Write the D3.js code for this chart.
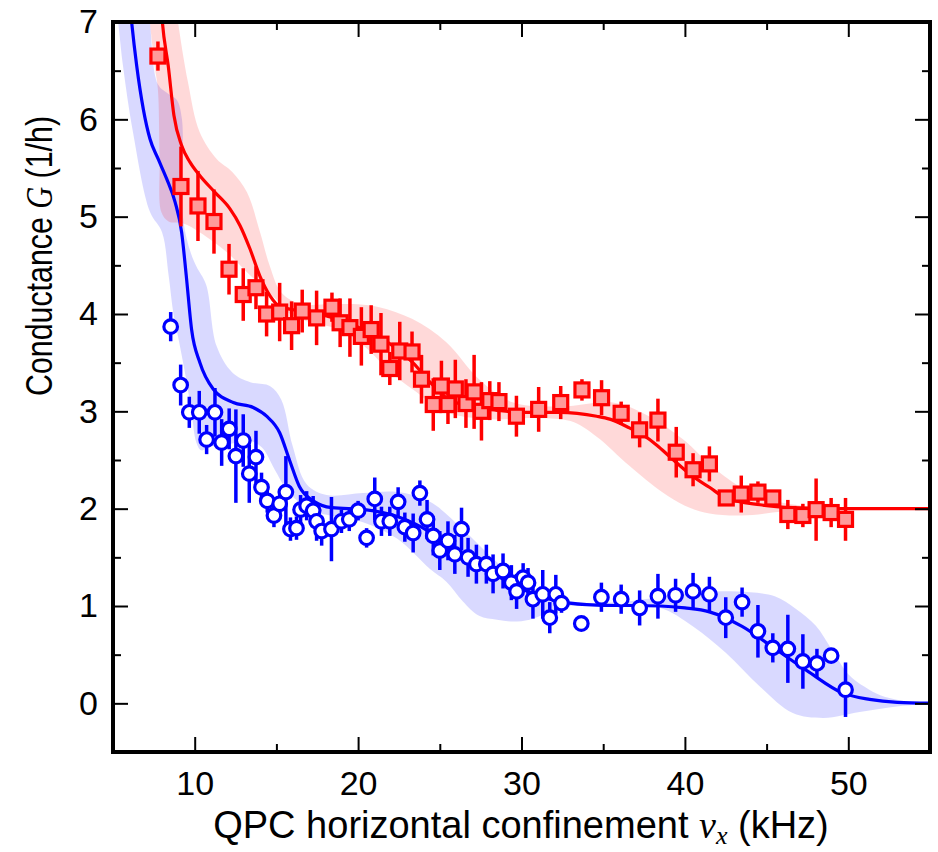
<!DOCTYPE html>
<html>
<head>
<meta charset="utf-8">
<script src="https://cdn.jsdelivr.net/npm/d3@7"></script>
<style>
  body { margin: 0; background: #fff; }
  svg { display: block; }
</style>
</head>
<body>
<svg id="chart"></svg>
<script>
// data: red squares (upper) and blue circles (lower)
const redX   = [7.75, 9.16, 10.2, 11.18, 12.1, 12.97, 13.75, 14.4, 15.2, 15.93, 16.58, 17.46, 18.4, 18.9, 19.5,
  20.2, 20.8, 21.4, 21.94, 22.55, 23.3, 23.88, 24.6, 25.1, 25.5, 25.95, 26.6, 27.1, 27.55, 28.06, 28.62, 29.69,
  31.05, 32.4, 33.7, 34.9, 36.1, 37.23, 38.35, 39.47, 40.5, 41.5, 42.53, 43.45, 44.47, 45.38, 46.3, 47.22, 48.03, 48.95, 49.83];
const redY   = [6.65, 5.31, 5.11, 4.95, 4.46, 4.20, 4.27, 4.00, 4.02, 3.88, 4.03, 3.96, 4.07, 3.91, 3.86,
  3.77, 3.84, 3.69, 3.44, 3.62, 3.61, 3.33, 3.07, 3.26, 3.07, 3.23, 3.08, 3.20, 3.00, 3.11, 3.10, 2.95,
  3.02, 3.09, 3.22, 3.14, 2.98, 2.81, 2.91, 2.58, 2.40, 2.46, 2.11, 2.15, 2.17, 2.11, 1.94, 1.93, 1.99, 1.96, 1.89];
const redErr = [0.15, 0.41, 0.36, 0.33, 0.26, 0.27, 0.22, 0.23, 0.30, 0.25, 0.22, 0.28, 0.15, 0.25, 0.30,
  0.30, 0.25, 0.32, 0.17, 0.30, 0.21, 0.25, 0.27, 0.26, 0.20, 0.30, 0.25, 0.38, 0.30, 0.20, 0.20, 0.21,
  0.23, 0.17, 0.11, 0.18, 0.12, 0.18, 0.22, 0.26, 0.17, 0.18, 0.06, 0.19, 0.11, 0.08, 0.15, 0.12, 0.32, 0.15, 0.22];

const blueX   = [8.53, 9.14, 9.67, 10.28, 10.73, 11.24, 11.65, 12.11, 12.52, 12.97, 13.34, 13.75, 14.09, 14.44, 14.85,
  15.2, 15.58, 15.86, 16.23, 16.48, 16.85, 17.25, 17.46, 17.77, 18.37, 18.98, 19.46, 20.0, 20.52, 21.02, 21.43,
  21.94, 22.45, 22.86, 23.37, 23.78, 24.22, 24.6, 25.0, 25.5, 25.92, 26.33, 26.73, 27.24, 27.85, 28.26, 28.87,
  29.38, 29.7, 30.1, 30.4, 30.7, 31.3, 31.73, 32.1, 32.45, 33.66, 34.89, 36.1, 37.23, 38.35, 39.43, 40.5, 41.5,
  42.5, 43.5, 44.47, 45.38, 46.3, 47.22, 48.08, 48.95, 49.83];
const blueY   = [3.87, 3.27, 2.99, 2.99, 2.71, 2.99, 2.68, 2.82, 2.54, 2.70, 2.36, 2.53, 2.22, 2.08, 1.93,
  2.05, 2.17, 1.79, 1.80, 1.99, 2.03, 1.98, 1.87, 1.77, 1.79, 1.87, 1.89, 1.98, 1.70, 2.10, 1.87,
  1.87, 2.07, 1.81, 1.75, 2.16, 1.89, 1.72, 1.57, 1.67, 1.53, 1.79, 1.50, 1.43, 1.43, 1.33, 1.36,
  1.24, 1.15, 1.29, 1.24, 1.07, 1.12, 0.88, 1.12, 1.03, 0.82, 1.09, 1.07, 0.98, 1.10, 1.11, 1.15, 1.12,
  0.88, 1.04, 0.74, 0.57, 0.56, 0.43, 0.41, 0.49, 0.14];
const blueErr = [0.15, 0.21, 0.16, 0.22, 0.15, 0.25, 0.24, 0.21, 0.48, 0.27, 0.30, 0.27, 0.15, 0.12, 0.12,
  0.15, 0.37, 0.12, 0.12, 0.15, 0.15, 0.15, 0.20, 0.15, 0.33, 0.12, 0.12, 0.10, 0.10, 0.22, 0.15,
  0.15, 0.15, 0.15, 0.20, 0.13, 0.20, 0.20, 0.20, 0.20, 0.20, 0.22, 0.20, 0.20, 0.20, 0.20, 0.18,
  0.18, 0.18, 0.15, 0.15, 0.20, 0.25, 0.16, 0.20, 0.10, 0, 0.15, 0.15, 0.18, 0.23, 0.17, 0.19, 0.18,
  0.21, 0.15, 0.27, 0.15, 0.35, 0.28, 0.15, 0, 0.28];

// theory curves and their uncertainty bands
const redFit = [[7.95,7.15],[8.02,7.0],[8.38,6.55],[8.73,6.04],[9.2,5.73],[9.71,5.56],[10.32,5.42],[11.24,5.25],
  [12.16,5.08],[12.77,4.91],[13.38,4.67],[13.99,4.39],[14.6,4.19],[15.2,4.08],[16.5,4.03],[18.07,3.98],[19.3,3.92],
  [20.3,3.84],[21.3,3.76],[22.4,3.64],[23.35,3.5],[24.4,3.3],[25.4,3.14],[26.8,3.05],[28.5,3.01],[30,2.99],
  [32.3,2.99],[34.6,2.95],[35.4,2.92],[36.6,2.83],[37.4,2.76],[38.3,2.65],[39.1,2.53],[40.5,2.33],[41.5,2.22],
  [42.5,2.11],[44.6,2.04],[46.6,2.01],[49,2.0],[55.5,2.0]];
const redBandHi = [[8.8,7.25],[8.98,7.0],[9.59,6.38],[10.3,5.87],[11.36,5.59],[12.3,5.46],[13.2,5.25],[14.0,4.84],
  [14.6,4.49],[15.3,4.22],[16.5,4.1],[18,4.1],[20,4.1],[21.3,4.07],[23.3,3.95],[25.4,3.71],[27.4,3.33],[29.5,3.09],
  [32.5,3.05],[35.6,3.09],[37.8,2.95],[39.9,2.71],[41.9,2.4],[43.96,2.17],[46,2.06],[48,2.02],[50,2.0],[55.5,2.0]];
const redBandLo = [[7.15,7.25],[7.26,7.0],[7.55,6.55],[7.75,6.3],[7.85,5.6],[7.95,5.05],[8.4,4.95],[9.3,4.93],
  [10.3,4.84],[12,4.63],[13.2,4.43],[14.8,4.18],[16,3.98],[17,3.92],[19,3.83],[20.5,3.65],[22,3.4],[23.4,3.22],
  [25.4,2.99],[28,2.92],[31,2.93],[33,2.9],[34.6,2.74],[36.6,2.44],[38.6,2.17],[40,2.03],[41.5,1.95],[43.5,1.93],
  [46,1.97],[48,2.0],[55.5,2.0]];

const blueFit = [[6.05,7.15],[6.14,7.0],[6.45,6.55],[6.86,6.1],[7.26,5.8],[7.77,5.59],[8.28,5.39],[8.8,5.15],
  [9.2,4.84],[9.48,4.4],[9.81,3.84],[10.32,3.5],[11.13,3.23],[12.36,3.09],[13.58,3.04],[14.4,2.95],[15.2,2.78],
  [15.8,2.5],[16.4,2.23],[17.25,2.08],[18.4,2.01],[20.4,1.99],[22.4,1.92],[24.4,1.76],[26.4,1.51],[28.5,1.31],
  [30.5,1.14],[32.5,1.04],[34.6,1.01],[38.5,1.0],[40,0.98],[41.5,0.94],[43.5,0.79],[45.6,0.55],[47.6,0.32],
  [49.6,0.11],[51.3,0.04],[53,0.01],[55.5,0]];
const blueBandHi = [[7.1,7.25],[7.26,7.0],[7.75,6.36],[8.4,6.26],[8.9,6.2],[9.22,6.0],[9.28,5.0],[9.7,4.66],
  [10.1,4.49],[10.7,4.3],[11.34,3.67],[12.3,3.4],[13.4,3.3],[14.6,3.26],[15.3,3.12],[16.0,2.64],[16.85,2.25],
  [18.07,2.14],[20.3,2.16],[22.4,2.17],[24.4,2.07],[26.4,1.79],[28.5,1.45],[30.5,1.2],[32.5,1.07],[34,1.03],
  [36,1.04],[38,1.08],[40,1.13],[42,1.15],[44,1.14],[45.5,1.1],[46.8,0.97],[48,0.8],[49,0.55],[50,0.3],
  [51,0.17],[52,0.08],[54,0.01],[55.5,0]];
const blueBandLo = [[5.1,7.25],[5.31,7.0],[5.61,6.55],[6.22,5.87],[7.26,5.05],[8.0,4.84],[8.4,4.4],[8.7,4.0],
  [9.0,3.75],[9.4,3.4],[9.8,3.0],[10.1,2.68],[10.4,2.6],[11,2.64],[12.3,2.67],[13.3,2.7],[14.1,2.63],[14.9,2.4],
  [15.6,2.2],[16.3,2.08],[17.5,1.96],[18.3,1.93],[20.3,1.86],[22.4,1.69],[24.4,1.38],[25.4,1.25],[26.4,1.05],
  [27.4,0.9],[28.5,0.86],[29.5,0.84],[30.5,0.86],[31.5,0.92],[33,1.0],[36,1.0],[38.5,0.98],[40.5,0.79],
  [42.5,0.52],[44.6,0.17],[46.6,-0.1],[48.5,-0.15],[50.7,-0.09],[53.1,-0.03],[55.5,0]];

const xMajor = [10, 20, 30, 40, 50];
const xMinor = [15, 25, 35, 45];
const yMajor = [0, 1, 2, 3, 4, 5, 6, 7];
const yMinor = [-0.5, 0.5, 1.5, 2.5, 3.5, 4.5, 5.5, 6.5];

const width = 938, height = 852;
const mLeft = 113, mRight = 930, mTop = 22, mBottom = 752;
const font = "'Liberation Sans', Arial, Helvetica, sans-serif";
const mathFont = "'Liberation Serif', 'DejaVu Serif', serif";

const svg = d3.select('#chart').attr('width', width).attr('height', height);
svg.append('rect').attr('width', width).attr('height', height).attr('fill', '#fff');

const x = d3.scaleLinear().domain([5, 55]).range([mLeft, mRight]);
const y = d3.scaleLinear().domain([-0.5, 7]).range([mBottom, mTop]);

svg.append('clipPath').attr('id', 'plotclip')
  .append('rect').attr('x', mLeft).attr('y', mTop).attr('width', mRight - mLeft).attr('height', mBottom - mTop);

const plot = svg.append('g').attr('clip-path', 'url(#plotclip)');

const bandLine = d3.line().x(d => x(d[0])).y(d => y(d[1])).curve(d3.curveCatmullRom);
function bandPath(hi, lo) {
  return bandLine(hi.concat(lo.slice().reverse())) + 'Z';
}
const fitLine = d3.line().x(d => x(d[0])).y(d => y(d[1])).curve(d3.curveMonotoneX);

plot.append('path').attr('d', bandPath(blueBandHi, blueBandLo)).attr('fill', 'rgba(0,0,255,0.15)');
plot.append('path').attr('d', bandPath(redBandHi, redBandLo)).attr('fill', 'rgba(255,0,0,0.15)');

plot.append('path').attr('d', fitLine(blueFit)).attr('fill', 'none').attr('stroke', '#0000ff').attr('stroke-width', 3.2);
plot.append('path').attr('d', fitLine(redFit)).attr('fill', 'none').attr('stroke', '#ff0000').attr('stroke-width', 3.2);

const red = redX.map((v, i) => ({x: v, y: redY[i], e: redErr[i]}));
const blue = blueX.map((v, i) => ({x: v, y: blueY[i], e: blueErr[i]}));

// error bars
plot.selectAll('.rerr').data(red.filter(d => d.e > 0)).enter().append('line')
  .attr('x1', d => x(d.x)).attr('x2', d => x(d.x))
  .attr('y1', d => y(d.y - d.e)).attr('y2', d => y(d.y + d.e))
  .attr('stroke', '#ff0000').attr('stroke-width', 3.5);
plot.selectAll('.berr').data(blue.filter(d => d.e > 0)).enter().append('line')
  .attr('x1', d => x(d.x)).attr('x2', d => x(d.x))
  .attr('y1', d => y(d.y - d.e)).attr('y2', d => y(d.y + d.e))
  .attr('stroke', '#0000ff').attr('stroke-width', 3.5);

// markers
const sq = 14;
plot.selectAll('.sq').data(red).enter().append('rect')
  .attr('x', d => x(d.x) - sq / 2).attr('y', d => y(d.y) - sq / 2)
  .attr('width', sq).attr('height', sq)
  .attr('fill', '#ff9a9a').attr('stroke', '#ff0000').attr('stroke-width', 3.2);
plot.selectAll('.ci').data(blue).enter().append('circle')
  .attr('cx', d => x(d.x)).attr('cy', d => y(d.y)).attr('r', 6.8)
  .attr('fill', '#fff').attr('stroke', '#0000ff').attr('stroke-width', 3.2);

// axes: ticks point inward on all four sides
function styleAxis(g) {
  g.select('.domain').remove();
  g.selectAll('line').attr('stroke', '#000').attr('stroke-width', 2);
  g.selectAll('text').style('font-family', font).style('font-size', '34px').attr('fill', '#000');
}
svg.append('g').attr('transform', `translate(0,${mBottom})`)
  .call(d3.axisBottom(x).tickValues(xMajor).tickSize(-15).tickPadding(19).tickFormat(d3.format('d'))).call(styleAxis);
svg.append('g').attr('transform', `translate(0,${mBottom})`)
  .call(d3.axisBottom(x).tickValues(xMinor).tickSize(-8).tickFormat('')).call(styleAxis);
svg.append('g').attr('transform', `translate(0,${mTop})`)
  .call(d3.axisTop(x).tickValues(xMajor).tickSize(-15).tickFormat('')).call(styleAxis);
svg.append('g').attr('transform', `translate(0,${mTop})`)
  .call(d3.axisTop(x).tickValues(xMinor).tickSize(-8).tickFormat('')).call(styleAxis);

svg.append('g').attr('transform', `translate(${mLeft},0)`)
  .call(d3.axisLeft(y).tickValues(yMajor).tickSize(-15).tickPadding(15).tickFormat(d3.format('d'))).call(styleAxis);
svg.append('g').attr('transform', `translate(${mLeft},0)`)
  .call(d3.axisLeft(y).tickValues(yMinor).tickSize(-8).tickFormat('')).call(styleAxis);
svg.append('g').attr('transform', `translate(${mRight},0)`)
  .call(d3.axisRight(y).tickValues(yMajor).tickSize(-15).tickFormat('')).call(styleAxis);
svg.append('g').attr('transform', `translate(${mRight},0)`)
  .call(d3.axisRight(y).tickValues(yMinor).tickSize(-8).tickFormat('')).call(styleAxis);

// frame
svg.append('rect').attr('x', mLeft).attr('y', mTop).attr('width', mRight - mLeft).attr('height', mBottom - mTop)
  .attr('fill', 'none').attr('stroke', '#000').attr('stroke-width', 4);

// axis titles
const xt = svg.append('text').attr('x', 521).attr('y', 838)
  .attr('text-anchor', 'middle').style('font-family', font).style('font-size', '38px');
xt.append('tspan').text('QPC horizontal confinement ');
xt.append('tspan').style('font-family', mathFont).style('font-style', 'italic').text('ν');
xt.append('tspan').style('font-family', mathFont).style('font-style', 'italic').style('font-size', '26px')
  .attr('dy', 6).text('x');
xt.append('tspan').attr('dy', -6).text(' (kHz)');

const yt = svg.append('text').attr('transform', 'translate(52,256) rotate(-90)')
  .attr('text-anchor', 'middle').style('font-family', font).style('font-size', '37px')
  .attr('textLength', 280).attr('lengthAdjust', 'spacingAndGlyphs');
yt.append('tspan').text('Conductance ');
yt.append('tspan').style('font-family', mathFont).style('font-style', 'italic').text('G');
yt.append('tspan').text(' (1/h)');
</script>
</body>
</html>
